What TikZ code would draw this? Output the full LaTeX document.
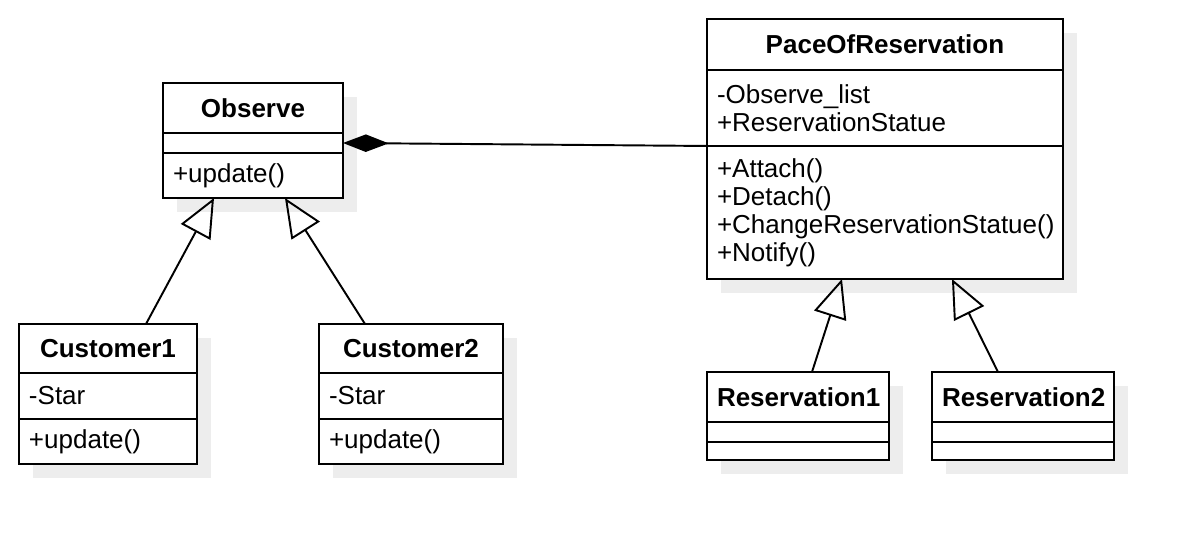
\documentclass[tikz,border=0pt]{standalone}
\usepackage{fontspec}
\setmainfont{Liberation Sans}
\usetikzlibrary{positioning,arrows.meta,backgrounds}

\newcommand{\umlfont}{\fontsize{14.8}{15.9}\selectfont}

\tikzset{
    classpart/.style={draw, line width=1.1pt, fill=white, inner xsep=0.2cm, inner ysep=0pt, outer sep=0pt, align=left, font=\umlfont},
    classname/.style={classpart, align=center, font=\umlfont\bfseries},
    classshadow/.style={fill=black!7},
    inherit/.style={line width=1.1pt, -{Triangle[open, length=22pt, width=19pt]}},
    compose/.style={line width=1.1pt, -{Diamond[length=26pt, width=10pt]}},
}

\begin{document}
\begin{tikzpicture}[x=0.02cm, y=-0.02cm]
    \useasboundingbox (0,0) rectangle (1192,544);

    \node[classname, text width=3.2cm, minimum height=1cm, anchor=north west] (obs) at (163,83) {Observe};
    \node[classpart, text width=3.2cm, minimum height=0.4cm, below=0pt of obs] (obsattr) {};
    \node[classpart, text width=3.2cm, minimum height=0.9cm, below=0pt of obsattr] (obsops) {+update()};

    \node[classname, text width=3.16cm, minimum height=0.98cm, anchor=north west] (cust1) at (19,324) {Customer1};
    \node[classpart, text width=3.16cm, minimum height=0.92cm, below=0pt of cust1] (cust1attr) {-Star};
    \node[classpart, text width=3.16cm, minimum height=0.9cm, below=0pt of cust1attr] (cust1ops) {+update()};

    \node[classname, text width=3.28cm, minimum height=0.98cm, anchor=north west] (cust2) at (319,324) {Customer2};
    \node[classpart, text width=3.28cm, minimum height=0.92cm, below=0pt of cust2] (cust2attr) {-Star};
    \node[classpart, text width=3.28cm, minimum height=0.9cm, below=0pt of cust2attr] (cust2ops) {+update()};

    \node[classname, text width=6.72cm, minimum height=1.02cm, anchor=north west] (pace) at (707,19) {PaceOfReservation};
    \node[classpart, text width=6.72cm, minimum height=1.52cm, below=0pt of pace] (paceattr) {-Observe\_list\\+ReservationStatue};
    \node[classpart, text width=6.72cm, minimum height=2.66cm, below=0pt of paceattr] (paceops) {+Attach()\\+Detach()\\+ChangeReservationStatue()\\+Notify()};

    \node[classname, text width=3.24cm, minimum height=1cm, anchor=north west] (res1) at (707,372) {Reservation1};
    \node[classpart, text width=3.24cm, minimum height=0.4cm, below=0pt of res1] (res1attr) {};
    \node[classpart, text width=3.24cm, minimum height=0.36cm, below=0pt of res1attr] (res1ops) {};

    \node[classname, text width=3.24cm, minimum height=1cm, anchor=north west] (res2) at (932,372) {Reservation2};
    \node[classpart, text width=3.24cm, minimum height=0.4cm, below=0pt of res2] (res2attr) {};
    \node[classpart, text width=3.24cm, minimum height=0.36cm, below=0pt of res2attr] (res2ops) {};

    \begin{scope}[on background layer]
        \fill[classshadow] ([shift={(14,14)}]obs.north west) rectangle ([shift={(14,14)}]obsops.south east);
        \fill[classshadow] ([shift={(14,14)}]cust1.north west) rectangle ([shift={(14,14)}]cust1ops.south east);
        \fill[classshadow] ([shift={(14,14)}]cust2.north west) rectangle ([shift={(14,14)}]cust2ops.south east);
        \fill[classshadow] ([shift={(14,14)}]pace.north west) rectangle ([shift={(14,14)}]paceops.south east);
        \fill[classshadow] ([shift={(14,14)}]res1.north west) rectangle ([shift={(14,14)}]res1ops.south east);
        \fill[classshadow] ([shift={(14,14)}]res2.north west) rectangle ([shift={(14,14)}]res2ops.south east);
    \end{scope}

    \draw[inherit] ([xshift=0.76cm]cust1.north) -- ([xshift=-0.78cm]obsops.south);
    \draw[inherit] ([xshift=-0.92cm]cust2.north) -- ([xshift=0.64cm]obsops.south);
    \draw[inherit] ([xshift=0.28cm]res1.north) -- ([xshift=-0.86cm]paceops.south);
    \draw[inherit] ([xshift=-0.5cm]res2.north) -- ([xshift=1.34cm]paceops.south);
    \draw[compose] (paceops.north west) -- (obsattr.east);

\end{tikzpicture}
\end{document}
